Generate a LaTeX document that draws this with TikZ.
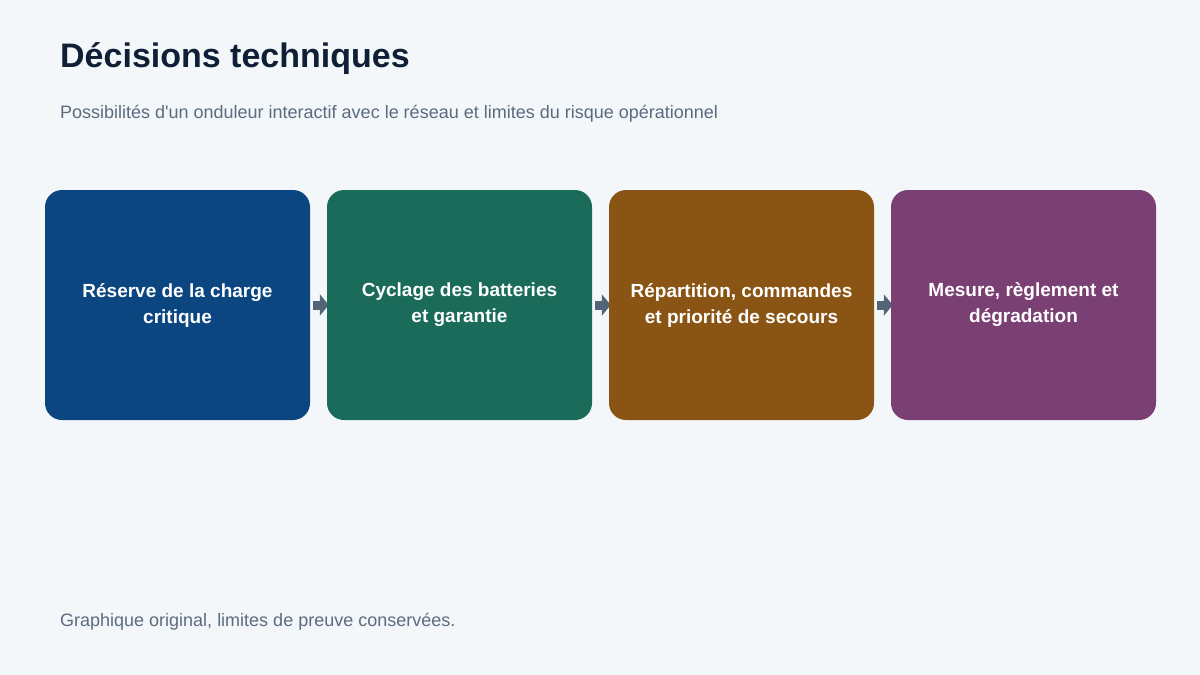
\documentclass[tikz,border=0pt]{standalone}
\usepackage{fontspec}
\setmainfont{Liberation Sans}[Ligatures=TeXOff]
\usetikzlibrary{arrows.meta,calc}
\pgfdeclarelayer{bg}
\pgfdeclarelayer{mid}
\pgfsetlayers{bg,mid,main}
\definecolor{bgc}{HTML}{F4F7FA}
\definecolor{titlec}{HTML}{0F1F35}
\definecolor{subc}{HTML}{5B6B7E}
\definecolor{arrc}{HTML}{536478}
\definecolor{cA}{HTML}{0B4680}
\definecolor{cB}{HTML}{1B6B5A}
\definecolor{cC}{HTML}{8A5415}
\definecolor{cD}{HTML}{7A3F73}
\tikzset{
  card/.style={rounded corners=17pt, minimum width=265pt, minimum height=230pt, inner sep=0pt, text=white, align=center, font=\fontsize{19}{26}\selectfont\bfseries},
  flow/.style={draw=arrc, line width=9pt, -{Triangle[length=9pt,width=21pt]}},
  plain/.style={anchor=base west, text=subc, font=\fontsize{18}{21}\selectfont, inner sep=0pt},
}
\begin{document}
\begin{tikzpicture}[x=1pt,y=-1pt]
\begin{pgfonlayer}{bg}
\fill[bgc] (0,0) rectangle (1200,675);
\end{pgfonlayer}
\useasboundingbox (0,0) rectangle (1200,675);
\node[anchor=base west, text=titlec, font=\fontsize{34}{40}\selectfont\bfseries, inner sep=0pt] (title) at (60,67) {Décisions techniques};
\node[plain] (sub) at (60,118) {Possibilités d'un onduleur interactif avec le réseau et limites du risque opérationnel};
\node[card, fill=cA] (a) at (177.5,305) {Réserve de la charge\\critique};
\node[card, fill=cB] (b) at (459.5,305) {Cyclage des batteries\\et garantie};
\node[card, fill=cC] (c) at (741.5,305) {Répartition, commandes\\et priorité de secours};
\node[card, fill=cD] (d) at (1023.5,305) {Mesure, règlement et\\dégradation};
\begin{pgfonlayer}{mid}
\draw[flow] ($(a.east)+(3,0)$) -- ($(b.west)+(2,0)$);
\draw[flow] ($(b.east)+(3,0)$) -- ($(c.west)+(2,0)$);
\draw[flow] ($(c.east)+(3,0)$) -- ($(d.west)+(2,0)$);
\end{pgfonlayer}
\node[plain] (foot) at (60,626) {Graphique original, limites de preuve conservées.};
\end{tikzpicture}
\end{document}
